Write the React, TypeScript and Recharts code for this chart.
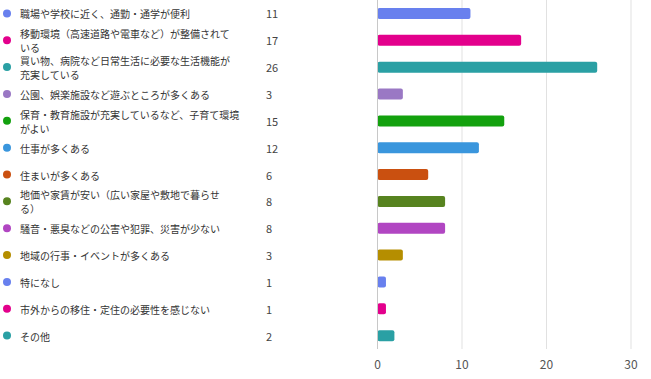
import { BarChart, Bar, XAxis, YAxis, CartesianGrid, Cell } from 'recharts';

const categories = [
  '職場や学校に近く、通勤・通学が便利',
  '移動環境（高速道路や電車など）が整備されて\nいる',
  '買い物、病院など日常生活に必要な生活機能が\n充実している',
  '公園、娯楽施設など遊ぶところが多くある',
  '保育・教育施設が充実しているなど、子育て環境\nがよい',
  '仕事が多くある',
  '住まいが多くある',
  '地価や家賃が安い（広い家屋や敷地で暮らせ\nる）',
  '騒音・悪臭などの公害や犯罪、災害が少ない',
  '地域の行事・イベントが多くある',
  '特になし',
  '市外からの移住・定住の必要性を感じない',
  'その他',
];

const counts = [11, 17, 26, 3, 15, 12, 6, 8, 8, 3, 1, 1, 2];

const colors = [
  '#6880EE', '#E3008C', '#2AA0A4', '#9A78C4', '#13A10E', '#3A96DD', '#CA5010',
  '#57831F', '#B146C2', '#B58E00', '#6880EE', '#E3008C', '#2AA0A4',
];

const xTicks = [0, 10, 20, 30];

const data = categories.map((name, i) => ({ name, count: counts[i], color: colors[i] }));

const FONT = '"Segoe UI", "Noto Sans CJK JP", sans-serif';

// label column: dot, wrapped text, count
function RowTick(props: any) {
  const { y, index } = props;
  const row = data[index];
  if (!row) return null;
  const lines = row.name.split('\n');
  const lh = 14;
  const top = y - ((lines.length - 1) * lh) / 2;
  return (
    <g>
      <circle cx={7} cy={y} r={4} fill={row.color} />
      <text x={20} y={top} fontSize={10} fill="#333" fontFamily={FONT} dominantBaseline="central">
        {lines.map((l: string, i: number) => (
          <tspan key={i} x={20} y={top + i * lh}>
            {l}
          </tspan>
        ))}
      </text>
      <text x={266} y={y} fontSize={11} fill="#444" fontFamily={FONT} dominantBaseline="central">
        {row.count}
      </text>
    </g>
  );
}

export default function App() {
  return (
    <div style={{ position: 'absolute', left: 0, top: 0, background: '#fff' }}>
      <BarChart
        width={651}
        height={379}
        layout="vertical"
        data={data}
        margin={{ top: 0, right: 20, left: 0, bottom: 0 }}
        barCategoryGap={0}
      >
        <CartesianGrid horizontal={false} stroke="#e1e1e1" />
        <XAxis
          type="number"
          domain={[0, 30]}
          ticks={xTicks}
          axisLine={false}
          tickLine={false}
          height={30}
          tickMargin={5}
          tick={{ fill: '#555', fontSize: 12, fontFamily: FONT }}
        />
        <YAxis
          type="category"
          dataKey="name"
          width={377.5}
          axisLine={{ stroke: '#c8c8c8' }}
          tickLine={false}
          tick={<RowTick />}
          interval={0}
        />
        <Bar dataKey="count" barSize={11} radius={2} isAnimationActive={false}>
          {data.map((d, i) => (
            <Cell key={`cell-${i}`} fill={d.color} />
          ))}
        </Bar>
      </BarChart>
    </div>
  );
}
